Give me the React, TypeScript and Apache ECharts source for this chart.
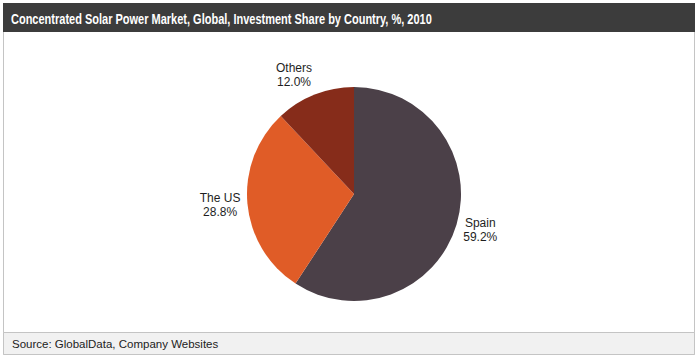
import React, { useEffect, useRef } from "react";
import * as echarts from "echarts";

const titleText = "Concentrated Solar Power Market, Global, Investment Share by Country, %, 2010";
const sourceText = "Source: GlobalData, Company Websites";
const countries = ["Spain", "The US", "Others"];
const shares = [59.2, 28.8, 12.0];
const colors = ["#4b4048", "#e05c27", "#862c1a"];

const CX = 354;
const CY = 194;
const R = 107;
const GAP = 7;

export default function App() {
  const ref = useRef<HTMLDivElement>(null);
  useEffect(() => {
    document.body.style.margin = "0";
    const chart = echarts.init(ref.current!, null, { renderer: "svg" });
    const total = shares.reduce((a, b) => a + b, 0);
    const mids: number[] = [];
    let acc = 0;
    shares.forEach((v) => {
      mids.push(((acc + v / 2) / total) * Math.PI * 2);
      acc += v;
    });
    chart.setOption({
      animation: false,
      backgroundColor: "#ffffff",
      graphic: [
        { type: "rect", shape: { x: 3.5, y: 3.5, width: 691, height: 351 }, style: { fill: "#ffffff", stroke: "#c4c4c4", lineWidth: 1 }, z: -1 },
        { type: "rect", shape: { x: 3, y: 3, width: 692, height: 29 }, style: { fill: "#3c3c3c" } },
        { type: "rect", shape: { x: 3.5, y: 332.5, width: 691, height: 22 }, style: { fill: "#f1f1f1", stroke: "#c4c4c4", lineWidth: 1 } },
        { type: "text", x: 11, y: 18.5, scaleX: 0.734, style: { text: titleText, fill: "#ffffff", font: "bold 15px 'Liberation Sans', Arial", verticalAlign: "middle" } },
        { type: "text", x: 12, y: 343.5, style: { text: sourceText, fill: "#222222", font: "11.5px 'Liberation Sans', Arial", verticalAlign: "middle" } },
      ],
      series: [
        {
          type: "pie",
          center: [CX, CY],
          radius: R,
          startAngle: 90,
          clockwise: true,
          avoidLabelOverlap: false,
          color: colors,
          data: countries.map((c, i) => ({ name: c, value: shares[i] })),
          label: {
            show: true,
            position: "outside",
            formatter: (p: any) => `${p.name}\n${p.value.toFixed(1)}%`,
            color: "#1e1e1e",
            fontFamily: "'Liberation Sans', Arial",
            fontSize: 12,
            lineHeight: 14,
            align: "center",
          },
          labelLine: { show: false },
          labelLayout: (params: any) => {
            const a = mids[params.dataIndex];
            const dx = Math.sin(a);
            const dy = -Math.cos(a);
            const px = CX + dx * (R + GAP);
            const py = CY + dy * (R + GAP);
            const w = params.labelRect.width;
            const h = params.labelRect.height;
            const x = dx < 0 ? px - w / 2 : px + w / 2;
            const top = py - (h * (1 - dy)) / 2;
            return { x, y: top + h / 2, align: "center", verticalAlign: "middle" };
          },
          itemStyle: { borderWidth: 0 },
          emphasis: { disabled: true },
        },
      ],
    });
    return () => chart.dispose();
  }, []);
  return <div ref={ref} style={{ width: 700, height: 361 }} />;
}
